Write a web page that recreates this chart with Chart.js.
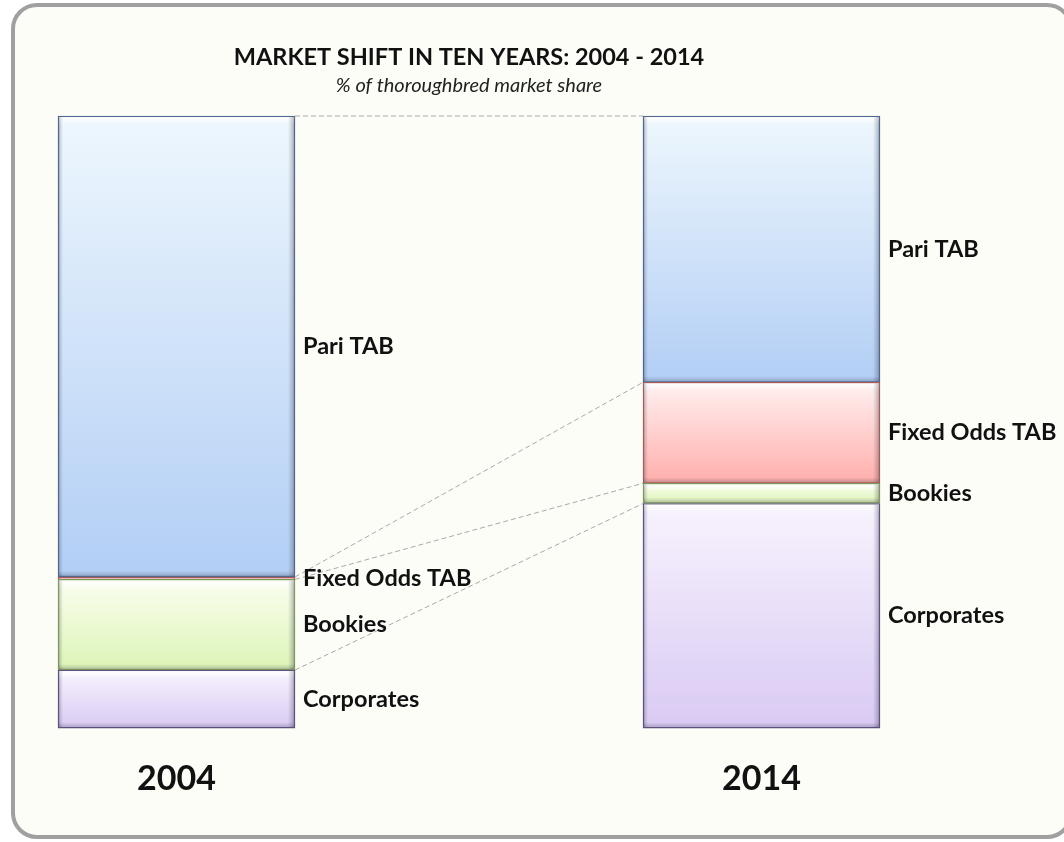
<!DOCTYPE html>
<html>
<head>
<meta charset="utf-8">
<script src="https://cdn.jsdelivr.net/npm/chart.js@4.4.1/dist/chart.umd.min.js"></script>
<style>
  html, body { margin: 0; padding: 0; background: #ffffff; }
  #wrap { width: 1064px; height: 842px; }
</style>
</head>
<body>
<div id="wrap"><canvas id="c" width="1064" height="842"></canvas></div>
<script>
// ---- Data ----
const years = ['2004', '2014'];
const corporates = [9.5, 36.7];
const bookies = [14.8, 3.3];
const fixedOddsTab = [0.4, 16.5];
const pariTab = [75.3, 43.5];
const seriesNames = ['Corporates', 'Bookies', 'Fixed Odds TAB', 'Pari TAB'];

const titleText = 'MARKET SHIFT IN TEN YEARS: 2004 - 2014';
const subtitleText = '% of thoroughbred market share';

// ---- Styles ----
const styles = [
  { top: '#f8f3fe', bottom: '#d9caf3', border: '#5d5282' },
  { top: '#fbfef0', bottom: '#dcf4b6', border: '#7c9958' },
  { top: '#fff1f1', bottom: '#ffaeab', border: '#a85a56' },
  { top: '#eef7fd', bottom: '#b2cef5', border: '#4e6890' }
];
const FONT = 'Lato, "Open Sans", sans-serif';

function gradientFor(di) {
  return function (ctx) {
    const chart = ctx.chart;
    const ys = chart.scales && chart.scales.y;
    const st = styles[di];
    if (!ys || ctx.type !== 'data' || ys.top === undefined) return st.bottom;
    const i = ctx.dataIndex;
    let start = 0;
    for (let k = 0; k < di; k++) start += chart.data.datasets[k].data[i];
    const end = start + chart.data.datasets[di].data[i];
    const yTop = ys.getPixelForValue(end);
    const yBot = ys.getPixelForValue(start);
    if (!isFinite(yTop) || !isFinite(yBot) || Math.abs(yBot - yTop) < 0.5) return st.bottom;
    const g = chart.ctx.createLinearGradient(0, yTop, 0, yBot);
    g.addColorStop(0, st.top);
    g.addColorStop(1, st.bottom);
    return g;
  };
}

const seriesData = [corporates, bookies, fixedOddsTab, pariTab];
const datasets = seriesNames.map((name, di) => ({
  label: name,
  data: seriesData[di],
  backgroundColor: gradientFor(di),
  borderColor: styles[di].border,
  borderWidth: 1.5,
  borderSkipped: false,
  barThickness: 237,
  clip: false
}));

// Background panel with rounded grey border
const panelPlugin = {
  id: 'panel',
  beforeDraw(chart) {
    const c = chart.ctx;
    c.save();
    c.fillStyle = '#ffffff';
    c.fillRect(0, 0, chart.width, chart.height);
    const x = 13, y = 5, w = 1058, h = 832, r = 24;
    c.beginPath();
    c.moveTo(x + r, y);
    c.lineTo(x + w - r, y);
    c.arcTo(x + w, y, x + w, y + r, r);
    c.lineTo(x + w, y + h - r);
    c.arcTo(x + w, y + h, x + w - r, y + h, r);
    c.lineTo(x + r, y + h);
    c.arcTo(x, y + h, x, y + h - r, r);
    c.lineTo(x, y + r);
    c.arcTo(x, y, x + r, y, r);
    c.closePath();
    c.fillStyle = '#fdfdf8';
    c.fill();
    c.lineWidth = 4;
    c.strokeStyle = '#a0a0a0';
    c.stroke();
    c.restore();
  }
};

// Connector lines, bevel shading and segment labels
const decoPlugin = {
  id: 'deco',
  afterDatasetsDraw(chart) {
    const c = chart.ctx;
    const n = chart.data.datasets.length;
    c.save();
    // bevel shading on each segment
    for (let di = 0; di < n; di++) {
      const meta = chart.getDatasetMeta(di);
      meta.data.forEach(el => {
        const left = el.x - el.width / 2, right = el.x + el.width / 2;
        const top = Math.min(el.y, el.base), bot = Math.max(el.y, el.base);
        const h = bot - top;
        if (h < 4) return;
        const bw = Math.min(8, h / 3);
        // top highlight
        let g = c.createLinearGradient(0, top + 1, 0, top + 1 + bw);
        g.addColorStop(0, 'rgba(255,255,255,0.95)');
        g.addColorStop(1, 'rgba(255,255,255,0)');
        c.fillStyle = g;
        c.fillRect(left + 1, top + 1, right - left - 2, bw);
        // right shadow
        g = c.createLinearGradient(right - 7, 0, right - 1, 0);
        g.addColorStop(0, 'rgba(40,40,60,0)');
        g.addColorStop(1, 'rgba(40,40,60,0.30)');
        c.fillStyle = g;
        c.fillRect(right - 7, top + 1, 6, h - 2);
        // left shadow
        g = c.createLinearGradient(left + 1, 0, left + 5, 0);
        g.addColorStop(0, 'rgba(40,40,60,0.24)');
        g.addColorStop(1, 'rgba(40,40,60,0)');
        c.fillStyle = g;
        c.fillRect(left + 1, top + 1, 4, h - 2);
        // bottom shadow
        const bb = Math.min(5, h / 4);
        g = c.createLinearGradient(0, bot - 1 - bb, 0, bot - 1);
        g.addColorStop(0, 'rgba(40,40,60,0)');
        g.addColorStop(1, 'rgba(40,40,60,0.24)');
        c.fillStyle = g;
        c.fillRect(left + 1, bot - 1 - bb, right - left - 2, bb);
      });
    }
    // dashed connector lines between segment tops
    c.setLineDash([5, 3]);
    c.lineWidth = 1;
    c.strokeStyle = '#a9a9a9';
    for (let di = 0; di < n; di++) {
      const meta = chart.getDatasetMeta(di);
      const a = meta.data[0], b = meta.data[1];
      if (!a || !b) continue;
      c.beginPath();
      c.moveTo(a.x + a.width / 2, a.y);
      c.lineTo(b.x - b.width / 2, b.y);
      c.stroke();
    }
    c.setLineDash([]);
    // segment labels
    c.fillStyle = '#111111';
    c.font = 'bold 23.5px ' + FONT;
    c.textAlign = 'left';
    c.textBaseline = 'middle';
    for (let di = 0; di < n; di++) {
      const meta = chart.getDatasetMeta(di);
      const name = chart.data.datasets[di].label;
      meta.data.forEach(el => {
        c.fillText(name, el.x + el.width / 2 + 8, (el.y + el.base) / 2);
      });
    }
    c.restore();
  }
};

new Chart(document.getElementById('c'), {
  type: 'bar',
  data: { labels: years, datasets },
  plugins: [panelPlugin, decoPlugin],
  options: {
    responsive: false,
    animation: false,
    layout: { padding: { left: 176.5, right: 302.5, top: 43, bottom: 13 } },
    plugins: {
      legend: { display: false },
      tooltip: { enabled: false },
      title: {
        display: true,
        text: titleText,
        color: '#111111',
        font: { family: FONT, size: 23.5, weight: 'bold', lineHeight: 1.2 },
        padding: { top: 0, bottom: 0 }
      },
      subtitle: {
        display: true,
        text: subtitleText,
        color: '#222222',
        font: { family: FONT, size: 20, style: 'italic', lineHeight: 1.2 },
        padding: { top: 2, bottom: 18.8 }
      }
    },
    scales: {
      x: {
        stacked: true,
        offset: false,
        grid: { display: false, drawTicks: false },
        border: { display: false },
        ticks: {
          color: '#111111',
          padding: 30,
          font: { family: FONT, size: 34, weight: 'bold', lineHeight: 1.2 }
        }
      },
      y: {
        stacked: true,
        display: false,
        min: 0,
        max: 100
      }
    }
  }
});
</script>
</body>
</html>
